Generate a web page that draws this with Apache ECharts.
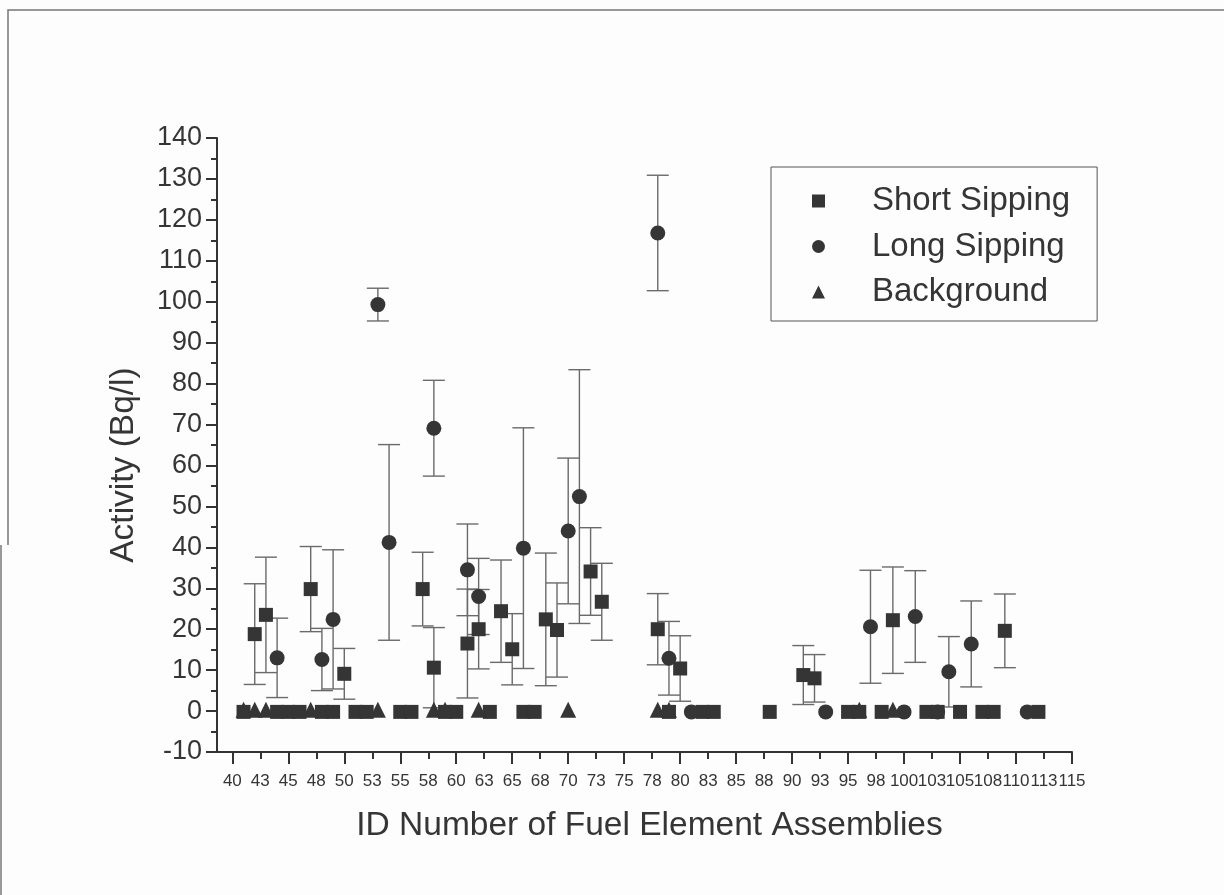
<!DOCTYPE html>
<html>
<head>
<meta charset="utf-8">
<script src="https://cdn.jsdelivr.net/npm/echarts@6/dist/echarts.min.js"></script>
<style>
  html, body { margin: 0; padding: 0; background: #fdfdfd; }
  #chart { width: 1224px; height: 895px; }
</style>
</head>
<body>
<div id="chart"></div>
<script>
// ---- Data ----
const shortIds  = [41, 42, 43, 44, 45, 46, 47, 48, 49, 50, 51, 52, 55, 56, 57, 58, 59, 60, 61, 62, 63, 64, 65, 66, 67, 68, 69, 72, 73, 78, 79, 80, 82, 83, 88, 91, 92, 95, 96, 98, 99, 102, 103, 105, 107, 108, 109, 112];
const shortVals = [-0.2, 18.8, 23.5, -0.2, -0.2, -0.2, 29.8, -0.2, -0.2, 9.1, -0.2, -0.2, -0.2, -0.2, 29.8, 10.6, -0.2, -0.2, 16.5, 20.0, -0.2, 24.4, 15.1, -0.2, -0.2, 22.4, 19.8, 34.1, 26.7, 20.0, -0.2, 10.4, -0.2, -0.2, -0.2, 8.8, 8.0, -0.2, -0.2, -0.2, 22.2, -0.2, -0.2, -0.2, -0.2, -0.2, 19.6, -0.2];
const shortErrs = [0, 12.3, 14.1, 0, 0, 0, 10.4, 0, 0, 6.2, 0, 0, 0, 0, 9.0, 9.8, 0, 0, 13.3, 9.7, 0, 12.5, 8.7, 0, 0, 16.2, 11.5, 10.7, 9.4, 8.7, 0, 8.0, 0, 0, 0, 7.2, 5.8, 0, 0, 0, 13.0, 0, 0, 0, 0, 0, 9.0, 0];

const longIds  = [44, 48, 49, 53, 54, 58, 61, 62, 66, 70, 71, 78, 79, 81, 93, 97, 100, 101, 103, 104, 106, 111];
const longVals = [13.0, 12.6, 22.4, 99.3, 41.2, 69.1, 34.5, 28.0, 39.8, 44.0, 52.4, 116.8, 12.9, -0.2, -0.2, 20.6, -0.2, 23.1, -0.2, 9.6, 16.4, -0.2];
const longErrs = [9.7, 7.6, 17.0, 4.0, 23.9, 11.7, 11.2, 9.3, 29.4, 17.8, 31.0, 14.1, 9.0, 0, 0, 13.8, 0, 11.2, 0, 8.6, 10.5, 0];

const bgIds  = [41, 42, 43, 47, 53, 58, 59, 62, 70, 78, 79, 96, 99];
const bgVals = [0.3, 0.3, 0.3, 0.3, 0.3, 0.3, 0.3, 0.3, 0.3, 0.3, 0.3, 0.3, 0.3];

const xTickValues = [40, 42.5, 45, 47.5, 50, 52.5, 55, 57.5, 60, 62.5, 65, 67.5, 70, 72.5, 75, 77.5, 80, 82.5, 85, 87.5, 90, 92.5, 95, 97.5, 100, 102.5, 105, 107.5, 110, 112.5, 115];
const xTickLabels = ['40', '43', '45', '48', '50', '53', '55', '58', '60', '63', '65', '68', '70', '73', '75', '78', '80', '83', '85', '88', '90', '93', '95', '98', '100', '103', '105', '108', '110', '113', '115'];
const xMajorTicks = [40, 45, 50, 55, 60, 65, 70, 75, 80, 85, 90, 95, 100, 105, 110, 115];
const xMinorTicks = [42.5, 47.5, 52.5, 57.5, 62.5, 67.5, 72.5, 77.5, 82.5, 87.5, 92.5, 97.5, 102.5, 107.5, 112.5];

// ---- Build series data ----
function points(ids, vals) { return ids.map((id, i) => [id, vals[i]]); }
function errBars(ids, vals, errs) {
  const out = [];
  ids.forEach((id, i) => { if (errs[i] > 0) out.push([id, vals[i] - errs[i], vals[i] + errs[i]]); });
  return out;
}
const FONT = '"Liberation Sans", Arial, sans-serif';
const INK = '#353535';
const AXIS = '#333333';
const BAR = '#6a6a6a';

function renderErr(params, api) {
  const x = api.value(0), lo = api.value(1), hi = api.value(2);
  const pLo = api.coord([x, lo]);
  const pHi = api.coord([x, hi]);
  const half = 11;
  const st = { stroke: BAR, lineWidth: 1.4 };
  return {
    type: 'group',
    children: [
      { type: 'line', shape: { x1: pLo[0], y1: pLo[1], x2: pHi[0], y2: pHi[1] }, style: st },
      { type: 'line', shape: { x1: pHi[0] - half, y1: pHi[1], x2: pHi[0] + half, y2: pHi[1] }, style: st },
      { type: 'line', shape: { x1: pLo[0] - half, y1: pLo[1], x2: pLo[0] + half, y2: pLo[1] }, style: st }
    ]
  };
}

const chart = echarts.init(document.getElementById('chart'), null, { renderer: 'canvas' });
const option = {
  backgroundColor: '#fdfdfd',
  animation: false,
  textStyle: { fontFamily: FONT, color: INK },
  grid: { left: 217, right: 152, top: 138, bottom: 143 },
  legend: {
    orient: 'vertical',
    left: 771,
    top: 167,
    padding: [16, 27, 11, 41],
    itemWidth: 13,
    itemHeight: 13,
    itemGap: 9.5,
    borderColor: '#555',
    borderWidth: 1,
    textStyle: { fontSize: 33, color: INK, fontFamily: FONT, lineHeight: 36, padding: [0, 0, 0, 42] },
    data: ['Short Sipping', 'Long Sipping', 'Background']
  },
  xAxis: [{
    type: 'value',
    min: 38.63,
    max: 115,
    name: 'ID Number of Fuel Element Assemblies',
    nameLocation: 'middle',
    nameGap: 57,
    nameTextStyle: { fontSize: 33.5, color: INK, fontFamily: FONT, padding: [0, 0, 0, 10] },
    axisLine: { onZero: false, lineStyle: { color: AXIS, width: 2 } },
    axisTick: { customValues: xMajorTicks, length: 12, lineStyle: { color: AXIS, width: 2 } },
    axisLabel: {
      customValues: xTickValues,
      formatter: v => { const i = xTickValues.indexOf(v); return i >= 0 ? xTickLabels[i] : ''; },
      fontSize: 17, color: INK, margin: 21, fontFamily: FONT
    },
    splitLine: { show: false }
  }, {
    type: 'value',
    min: 38.63,
    max: 115,
    position: 'bottom',
    offset: 0,
    axisLine: { show: false, onZero: false },
    axisTick: { customValues: xMinorTicks, length: 7, lineStyle: { color: AXIS, width: 2 } },
    axisLabel: { show: false },
    splitLine: { show: false }
  }],
  yAxis: {
    type: 'value',
    min: -10,
    max: 140,
    interval: 10,
    name: 'Activity (Bq/l)',
    nameLocation: 'middle',
    nameRotate: 90,
    nameGap: 76,
    nameTextStyle: { fontSize: 33.5, color: INK, fontFamily: FONT, padding: [0, 40, 0, 0] },
    axisLine: { show: true, onZero: false, lineStyle: { color: AXIS, width: 2 } },
    axisTick: { length: 11, lineStyle: { color: AXIS, width: 2 } },
    minorTick: { show: true, splitNumber: 2, length: 6, lineStyle: { color: AXIS, width: 2 } },
    axisLabel: { fontSize: 27, color: INK, margin: 15, fontFamily: FONT },
    splitLine: { show: false },
    minorSplitLine: { show: false }
  },
  series: [
    { type: 'custom', name: 'errShort', renderItem: renderErr, data: errBars(shortIds, shortVals, shortErrs), encode: { x: 0, y: [1, 2] }, z: 1, silent: true },
    { type: 'custom', name: 'errLong', renderItem: renderErr, data: errBars(longIds, longVals, longErrs), encode: { x: 0, y: [1, 2] }, z: 1, silent: true },
    { type: 'scatter', name: 'Short Sipping', symbol: 'rect', symbolSize: 14, itemStyle: { color: INK, opacity: 1 }, data: points(shortIds, shortVals), z: 3 },
    { type: 'scatter', name: 'Long Sipping', symbol: 'circle', symbolSize: 15, itemStyle: { color: INK, opacity: 1 }, data: points(longIds, longVals), z: 3 },
    { type: 'scatter', name: 'Background', symbol: 'triangle', symbolSize: 16, itemStyle: { color: INK, opacity: 1 }, data: points(bgIds, bgVals), z: 3 }
  ],
  graphic: [
    { type: 'polyline', shape: { points: [[1224, 10], [8, 10], [8, 545]] }, style: { stroke: '#777', lineWidth: 1.5, fill: null } },
    { type: 'line', shape: { x1: 1, y1: 545, x2: 1, y2: 895 }, style: { stroke: '#777', lineWidth: 1.5 } }
  ]
};
chart.setOption(option);
</script>
</body>
</html>
